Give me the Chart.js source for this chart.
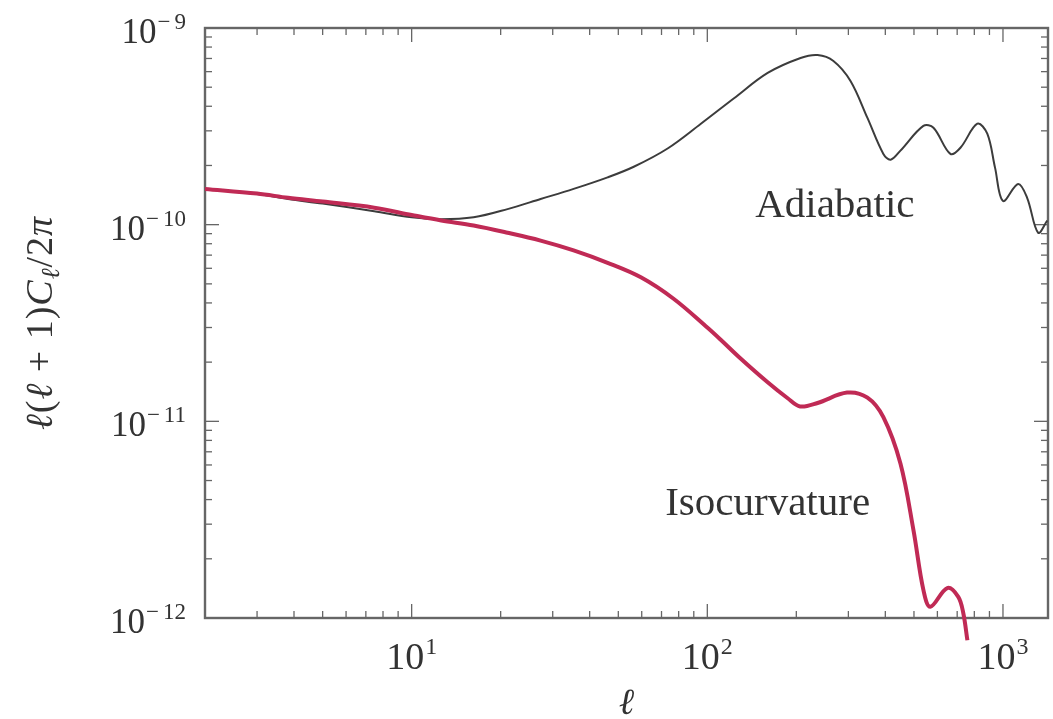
<!DOCTYPE html>
<html>
<head>
<meta charset="utf-8">
<script src="https://cdn.jsdelivr.net/npm/chart.js@4.4.0/dist/chart.umd.min.js"></script>
<style>
  html, body { margin: 0; padding: 0; background: #fff; }
  #wrap { width: 1053px; height: 719px; position: relative; }
</style>
</head>
<body>
<div id="wrap"><canvas id="c"></canvas></div>
<script>
// multipole l and l(l+1)C_l/2pi
const isoL = [2, 3, 3.82, 5, 7.47, 10, 12.6, 16.2, 21.1, 27.3, 35.3, 46, 59.6, 76.9, 100, 111, 129, 160, 187, 206, 236, 297, 348, 394, 450, 498, 538, 568, 648, 706, 734, 758]
const isoC = [1.52e-10, 1.44e-10, 1.37e-10, 1.31e-10, 1.22e-10, 1.12e-10, 1.05e-10, 9.9e-11, 9.1e-11, 8.3e-11, 7.4e-11, 6.4e-11, 5.4e-11, 4.2e-11, 3.0e-11, 2.6e-11, 2.1e-11, 1.58e-11, 1.31e-11, 1.19e-11, 1.24e-11, 1.40e-11, 1.32e-11, 1.05e-11, 6.1e-12, 2.8e-12, 1.39e-12, 1.14e-12, 1.42e-12, 1.28e-12, 1.06e-12, 7.7e-13]

const adiL = [2, 3, 3.82, 5, 7.47, 10, 12.6, 16.2, 21.1, 27.3, 35.3, 46, 56.4, 73.4, 94.9, 122.8, 160, 206.7, 236, 267, 305, 348, 394, 417, 450, 538, 582, 664, 718, 819, 885, 940, 1000, 1125, 1207, 1315, 1412]
const adiC = [1.52e-10, 1.43e-10, 1.35e-10, 1.28e-10, 1.17e-10, 1.09e-10, 1.065e-10, 1.09e-10, 1.20e-10, 1.35e-10, 1.52e-10, 1.74e-10, 1.97e-10, 2.44e-10, 3.25e-10, 4.38e-10, 5.91e-10, 7.04e-10, 7.29e-10, 6.80e-10, 5.38e-10, 3.49e-10, 2.29e-10, 2.14e-10, 2.38e-10, 3.18e-10, 3.11e-10, 2.29e-10, 2.46e-10, 3.26e-10, 2.90e-10, 1.95e-10, 1.32e-10, 1.61e-10, 1.37e-10, 9.1e-11, 1.05e-10]

const xMajor = [10, 100, 1000]
const xExp = ["1", "2", "3"]
const yMajor = [1e-12, 1e-11, 1e-10, 1e-9]
const yExp = ["−12", "−11", "−10", "−9"]

const adiLabel = { text: "Adiabatic", x: 270, y: 1.10e-10 }
const isoLabel = { text: "Isocurvature", x: 160, y: 3.33e-12 }

const X_MIN = 2, X_MAX = 1420, Y_MIN = 1e-12, Y_MAX = 1e-9
const INK = "#333"
const AXIS = "#666"

function minorTicks(lo, hi) {
  const out = []
  for (let dec = Math.floor(Math.log10(lo)); dec <= Math.ceil(Math.log10(hi)); dec++) {
    for (let k = 2; k <= 9; k++) {
      const v = k * Math.pow(10, dec)
      if (v > lo * 1.0001 && v < hi * 0.9999) out.push(v)
    }
  }
  return out
}

function drawPow(ctx, base, exp, x, y, align, baseFont, expFont, rise) {
  ctx.font = baseFont
  const wb = ctx.measureText(base).width
  ctx.font = expFont
  let we = 0
  const parts = exp.startsWith("−") ? ["−", exp.slice(1)] : [exp]
  const gaps = parts.length > 1 ? 4 : 0
  parts.forEach(p => { we += ctx.measureText(p).width })
  we += gaps + 1
  const total = wb + we
  let x0 = align === "right" ? x - total : x - total / 2
  ctx.textAlign = "left"
  ctx.textBaseline = "alphabetic"
  ctx.font = baseFont
  ctx.fillText(base, x0, y)
  let xe = x0 + wb + 1
  ctx.font = expFont
  parts.forEach((p, i) => {
    ctx.fillText(p, xe, y - rise)
    xe += ctx.measureText(p).width + (i === 0 && parts.length > 1 ? gaps : 0)
  })
}

const framePlugin = {
  id: "frame",
  beforeDatasetsDraw(chart) {
    const { ctx, chartArea: a, scales: { x, y } } = chart
    ctx.save()
    ctx.strokeStyle = AXIS
    ctx.lineWidth = 1.3
    const tick = (px, py, dx, dy) => {
      ctx.beginPath(); ctx.moveTo(px, py); ctx.lineTo(px + dx, py + dy); ctx.stroke()
    }
    minorTicks(X_MIN, X_MAX).forEach(v => {
      const px = x.getPixelForValue(v)
      tick(px, a.bottom, 0, -7); tick(px, a.top, 0, 7)
    })
    xMajor.forEach(v => {
      const px = x.getPixelForValue(v)
      tick(px, a.bottom, 0, -14); tick(px, a.top, 0, 14)
    })
    minorTicks(Y_MIN, Y_MAX).forEach(v => {
      const py = y.getPixelForValue(v)
      tick(a.left, py, 7, 0); tick(a.right, py, -7, 0)
    })
    yMajor.forEach(v => {
      const py = y.getPixelForValue(v)
      tick(a.left, py, 14, 0); tick(a.right, py, -14, 0)
    })
    ctx.lineWidth = 2.4
    ctx.strokeRect(a.left, a.top, a.right - a.left, a.bottom - a.top)
    ctx.restore()
  },
  afterDraw(chart) {
    const { ctx, chartArea: a, scales: { x, y } } = chart
    ctx.save()
    ctx.fillStyle = INK

    yMajor.forEach((v, i) => {
      drawPow(ctx, "10", yExp[i], 186, y.getPixelForValue(v) + 15,
        "right", "35px 'Liberation Serif'", "23px 'Liberation Serif'", 14)
    })
    xMajor.forEach((v, i) => {
      drawPow(ctx, "10", xExp[i], x.getPixelForValue(v), a.bottom + 51,
        "center", "38px 'Liberation Serif'", "24px 'Liberation Serif'", 15)
    })

    // curve labels
    ctx.font = "41px 'Liberation Serif'"
    ctx.textAlign = "center"
    ctx.textBaseline = "alphabetic"
    ;[adiLabel, isoLabel].forEach(l => {
      ctx.fillText(l.text, x.getPixelForValue(l.x), y.getPixelForValue(l.y))
    })

    // x title
    ctx.font = "italic 37px 'Liberation Serif'"
    ctx.fillText("ℓ", (a.left + a.right) / 2, a.bottom + 96)

    // y title with subscript
    const pieces = [
      ["ℓ", "italic 38px 'Liberation Serif'", 0],
      ["(", "38px 'Liberation Serif'", 0],
      ["ℓ", "italic 38px 'Liberation Serif'", 0],
      [" + 1)", "38px 'Liberation Serif'", 0],
      ["C", "italic 38px 'Liberation Serif'", 0],
      ["ℓ", "italic 26px 'Liberation Serif'", 7],
      ["/2", "38px 'Liberation Serif'", 0],
      ["π", "italic 38px 'Liberation Serif'", 0]
    ]
    ctx.letterSpacing = "1px"
    let total = 0
    pieces.forEach(p => { ctx.font = p[1]; total += ctx.measureText(p[0]).width })
    ctx.translate(52, (a.top + a.bottom) / 2)
    ctx.rotate(-Math.PI / 2)
    ctx.textAlign = "left"
    let px = -total / 2
    pieces.forEach(p => {
      ctx.font = p[1]
      ctx.fillText(p[0], px, p[2])
      px += ctx.measureText(p[0]).width
    })
    ctx.restore()
  }
}

new Chart(document.getElementById("c"), {
  type: "line",
  data: {
    datasets: [
      {
        label: "Isocurvature",
        data: isoL.map((l, i) => ({ x: l, y: isoC[i] })),
        borderColor: "#c02a55",
        borderWidth: 4,
        tension: 0.35,
        clip: { left: 0, top: 0, right: 0, bottom: 25 }
      },
      {
        label: "Adiabatic",
        data: adiL.map((l, i) => ({ x: l, y: adiC[i] })),
        borderColor: "#3c3c3c",
        borderWidth: 2,
        tension: 0.35,
        clip: { left: 0, top: 0, right: 6, bottom: 0 }
      }
    ]
  },
  options: {
    responsive: true,
    maintainAspectRatio: false,
    animation: false,
    layout: { padding: { left: 205, top: 28, right: 5, bottom: 101 } },
    elements: { point: { radius: 0 } },
    plugins: { legend: { display: false }, tooltip: { enabled: false } },
    scales: {
      x: { type: "logarithmic", min: X_MIN, max: X_MAX, display: false },
      y: { type: "logarithmic", min: Y_MIN, max: Y_MAX, display: false }
    }
  },
  plugins: [framePlugin]
})
</script>
</body>
</html>
